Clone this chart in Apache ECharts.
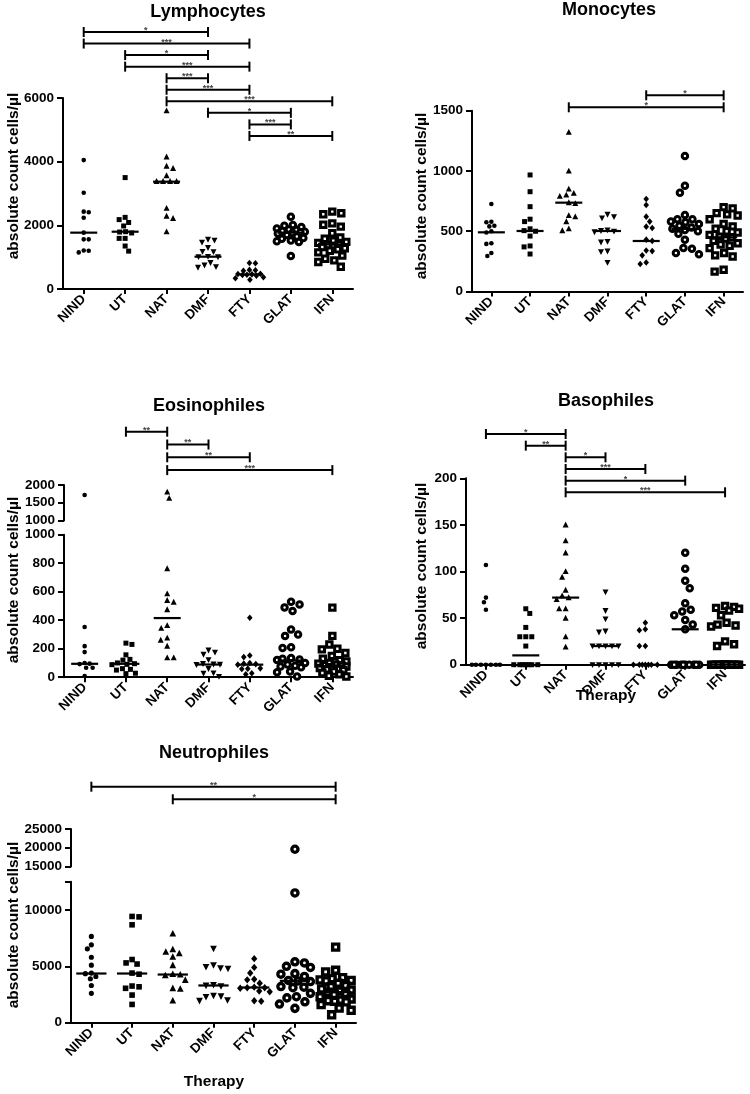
<!DOCTYPE html>
<html><head><meta charset="utf-8">
<script src="https://cdn.jsdelivr.net/npm/echarts@6/dist/echarts.min.js"></script>
<style>html,body{margin:0;padding:0;background:#fff}#c{width:750px;height:1094px}</style>
</head><body><div id="c"></div>
<script>
const categories = ['NIND','UT','NAT','DMF','FTY','GLAT','IFN'];

// ---- Lymphocytes ----
const lymphocytes = [
  [4050, 3025, 2430, 2410, 2240, 1770, 1560, 1560, 1210, 1200, 1150],
  [3500, 2250, 2180, 2090, 1980, 1800, 1790, 1760, 1590, 1590, 1350, 1190],
  [5600, 4150, 3860, 3790, 3560, 3380, 3380, 3380, 3380, 2535, 2290, 2220, 1800],
  [1560, 1530, 1470, 1300, 1180, 1170, 1020, 1015, 1010, 830, 750, 700, 680],
  [815, 810, 600, 590, 570, 480, 470, 460, 450, 440, 420, 370, 340, 290],
  [2270, 2010, 1990, 1950, 1900, 1870, 1850, 1820, 1800, 1780, 1760, 1740, 1700, 1650, 1600, 1580, 1520, 1500, 1480, 1040],
  [2430, 2380, 2350, 2060, 2020, 1960, 1750, 1620, 1580, 1520, 1480, 1450, 1400, 1380, 1350, 1320, 1280, 1250, 1200, 1150, 1050, 950, 900, 850, 700]
];
const lymphMedians = [1770, 1800, 3371, 1015, 460, 1770, 1400];
const lymphTicks = [0, 2000, 4000, 6000];
const lymphBrackets = [[0,3,'*'],[0,4,'***'],[1,3,'*'],[1,4,'***'],[2,3,'***'],[2,4,'***'],[2,6,'***'],[3,5,'*'],[4,5,'***'],[4,6,'**']];

// ---- Monocytes ----
const monocytes = [
  [726, 579, 575, 545, 540, 500, 490, 400, 395, 320, 295],
  [967, 828, 704, 600, 580, 520, 505, 500, 460, 378, 370, 311],
  [1321, 1000, 850, 815, 800, 790, 737, 730, 630, 620, 580, 520, 505],
  [640, 620, 610, 510, 505, 500, 495, 415, 410, 335, 330, 240],
  [768, 718, 621, 580, 538, 527, 430, 420, 340, 335, 300, 240, 228],
  [1124, 878, 820, 635, 600, 600, 580, 575, 560, 545, 530, 520, 510, 500, 480, 430, 360, 355, 320, 310],
  [700, 690, 650, 640, 630, 600, 560, 540, 520, 500, 490, 470, 455, 450, 440, 420, 400, 390, 380, 360, 320, 300, 290, 180, 165]
];
const monoMedians = [491, 502, 737, 502, 419, 519, 450];
const monoTicks = [0, 500, 1000, 1500];
const monoBrackets = [[4,6,'*'],[2,6,'*']];

// ---- Eosinophiles (broken axis) ----
const eosinophiles = [
  [1718, 352, 218, 176, 100, 95, 92, 66, 66, 8],
  [239, 230, 157, 125, 120, 100, 95, 90, 88, 60, 55, 50, 28, 25],
  [1803, 1625, 762, 586, 539, 527, 474, 363, 344, 275, 260, 218, 136, 136],
  [190, 175, 160, 122, 95, 92, 90, 88, 60, 30, 28, 5],
  [417, 152, 141, 100, 95, 92, 88, 62, 60, 58, 28, 20],
  [530, 510, 490, 465, 335, 300, 290, 210, 205, 135, 130, 125, 120, 100, 90, 80, 75, 70, 40, 35, 5],
  [488, 290, 230, 200, 195, 170, 150, 130, 120, 110, 100, 95, 90, 85, 80, 75, 70, 65, 60, 55, 50, 40, 30, 20, 10, 5]
];
const eosMedians = [94, 94, 415, 89, 88, 117, 75];
const eosTicksUpper = [1000, 1500, 2000];
const eosTicksLower = [0, 200, 400, 600, 800, 1000];
const eosBrackets = [[1,2,'**'],[2,3,'**'],[2,4,'**'],[2,6,'***']];

// ---- Basophiles ----
const basophiles = [
  [107, 72, 67, 59, 0, 0, 0, 0, 0, 0, 0],
  [60, 55, 40, 30, 30, 30, 20, 0, 0, 0, 0, 0, 0, 0],
  [150, 133, 120, 100, 94, 80, 74, 72, 70, 60, 60, 50, 30, 19],
  [78, 58, 49, 36, 35, 20, 20, 20, 20, 20, 0, 0, 0, 0, 0],
  [45, 38, 37, 20, 20, 0, 0, 0, 0, 0, 0, 0],
  [120, 103, 90, 82, 66, 59, 57, 53, 48, 43, 38, 0, 0, 0, 0, 0, 0, 0, 0, 0, 0],
  [63, 62, 61, 60, 58, 53, 45, 43, 42, 41, 25, 22, 20, 0, 0, 0, 0, 0, 0, 0, 0, 0, 0, 0, 0, 0, 0, 0]
];
const basoMedians = [0, 10, 72, 20, 0, 38, 0];
const basoTicks = [0, 50, 100, 150, 200];
const basoBrackets = [[0,2,'*'],[1,2,'**'],[2,3,'*'],[2,4,'***'],[2,5,'*'],[2,6,'***']];

// ---- Neutrophiles (broken axis) ----
const neutrophiles = [
  [7650, 6900, 6550, 5800, 5100, 4400, 4350, 4100, 3900, 3300, 2600],
  [9420, 9380, 8680, 5600, 5300, 5200, 4400, 4300, 3250, 3180, 3050, 2450, 1620],
  [7890, 6500, 6270, 6150, 5830, 5090, 4300, 4250, 4200, 3780, 3050, 3000, 1950],
  [6570, 5100, 4950, 4850, 4800, 3350, 3300, 3250, 2400, 2350, 2300, 2000, 1950],
  [5680, 4900, 4400, 3850, 3800, 3500, 3150, 3100, 3100, 3050, 2800, 2750, 1950, 1900],
  [19600, 11500, 5400, 5300, 5000, 4900, 4350, 4300, 4100, 3750, 3700, 3650, 3200, 3150, 3100, 2600, 2300, 2200, 1850, 1650, 1270],
  [6700, 4650, 4500, 4000, 3900, 3800, 3750, 3700, 3500, 3300, 3200, 3000, 2900, 2800, 2700, 2600, 2500, 2300, 2100, 2000, 1950, 1900, 1850, 1600, 1300, 1100, 700]
];
const neutMedians = [4360, 4360, 4270, 3300, 3120, 3710, 2710];
const neutTicksUpper = [15000, 20000, 25000];
const neutTicksLower = [0, 5000, 10000];
const neutLowerMax = 12500;
const neutBrackets = [[0,6,'**'],[2,6,'*']];

const yTitle = 'absolute count cells/µl';
const xTitle = 'Therapy';

// ---------- layout / styles ----------
const FONT = "'Liberation Sans', Arial, sans-serif";
const panels = [
  {name:'Lymphocytes', data:lymphocytes, medians:lymphMedians, brackets:lymphBrackets,
   segs:[{ticks:lymphTicks, top:98, height:191}], left:63, width:290,
   title:[208,12], yT:[14,176], xT:null, bTop:32, bStep:11.55, k:1},
  {name:'Monocytes', data:monocytes, medians:monoMedians, brackets:monoBrackets,
   segs:[{ticks:monoTicks, top:110.7, height:180.8}], left:472, width:271,
   title:[609,10], yT:[422,196], xT:null, bTop:95.3, bStep:12, k:1},
  {name:'Eosinophiles', data:eosinophiles, medians:eosMedians, brackets:eosBrackets,
   segs:[{ticks:eosTicksUpper, top:485, height:35.5},{ticks:eosTicksLower, top:534.7, height:142.5}], left:64, width:289,
   title:[209,406], yT:[14,580], xT:null, bTop:431.7, bStep:12.8, k:1},
  {name:'Basophiles', data:basophiles, medians:basoMedians, brackets:basoBrackets,
   segs:[{ticks:basoTicks, top:478.3, height:186.4}], left:466, width:279,
   title:[606,401], yT:[422,566], xT:[606,696], bTop:434, bStep:11.66, k:1},
  {name:'Neutrophiles', data:neutrophiles, medians:neutMedians, brackets:neutBrackets,
   segs:[{ticks:neutTicksUpper, top:829, height:37.5},{ticks:neutTicksLower, max:neutLowerMax, top:881.7, height:141}], left:71, width:285,
   title:[214,753], yT:[14,925], xT:[214,1082], bTop:786.7, bStep:12.6, k:1.12}
];
panels.forEach(p => p.segs.forEach(s => {
  s.min = s.ticks[0];
  if (s.max === undefined) s.max = s.ticks[s.ticks.length - 1];
  s.interval = s.ticks[1] - s.ticks[0];
}));
function segOf(p, v) {
  for (let s = p.segs.length - 1; s >= 0; s--) if (v <= p.segs[s].max) return s;
  return 0;
}
const COLL = [5, 6, 6.5, 6.5, 6, 8.5, 9];

function pointShape(g, x, y, k) {
  const blk = '#000';
  if (g === 0) return {type:'circle', shape:{cx:x, cy:y, r:2.3*k}, style:{fill:blk}};
  if (g === 1) { const s = 5*k; return {type:'rect', shape:{x:x-s/2, y:y-s/2, width:s, height:s}, style:{fill:blk}}; }
  if (g === 2) { const w = 3*k, h = 3*k; return {type:'polygon', shape:{points:[[x,y-h*1.1],[x+w,y+h*0.85],[x-w,y+h*0.85]]}, style:{fill:blk}}; }
  if (g === 3) { const w = 3*k, h = 3*k; return {type:'polygon', shape:{points:[[x-w,y-h*0.85],[x+w,y-h*0.85],[x,y+h*1.1]]}, style:{fill:blk}}; }
  if (g === 4) { const w = 2.8*k, h = 3.3*k; return {type:'polygon', shape:{points:[[x,y-h],[x+w,y],[x,y+h],[x-w,y]]}, style:{fill:blk}}; }
  if (g === 5) return {type:'circle', shape:{cx:x, cy:y, r:2.75*k}, style:{fill:'#fff', stroke:blk, lineWidth:3*k}};
  const s = 5.4*k;
  return {type:'rect', shape:{x:x-s/2, y:y-s/2, width:s, height:s}, style:{fill:'#fff', stroke:blk, lineWidth:3*k}};
}

function swarm(ys, d, maxHalf) {
  const n = ys.length, order = ys.map((_, i) => i).sort((a, b) => ys[a] - ys[b]);
  const placed = [], dx = new Array(n).fill(0);
  for (const i of order) {
    const flip = placed.length % 2 ? 1 : -1;
    const cands = [0];
    for (let s = 0.5; s <= maxHalf + 1e-9; s += 0.5) cands.push(flip*s, -flip*s);
    let chosen = null, fb = 0, fbScore = -1;
    for (const c of cands) {
      let m = Infinity;
      for (const q of placed) { const dd = Math.hypot(q[0]-c, q[1]-ys[i]); if (dd < m) m = dd; }
      if (m >= d) { chosen = c; break; }
      if (m > fbScore + 0.01) { fbScore = m; fb = c; }
    }
    if (chosen === null) chosen = fb;
    dx[i] = chosen; placed.push([chosen, ys[i]]);
  }
  return dx;
}

function labelFmt(s) {
  return v => (s.ticks.indexOf(v) >= 0 ? String(v) : '');
}

function buildOption(offsets) {
  const grid = [], xAxis = [], yAxis = [], series = [], graphic = [];
  let gi = 0;
  panels.forEach((p, pi) => {
    const segIdx = [];
    p.segs.forEach((s, si) => {
      const lowest = si === p.segs.length - 1;
      segIdx.push(gi);
      grid.push({left:p.left, top:s.top, width:p.width, height:s.height});
      xAxis.push({gridIndex:gi, type:'category', data:categories, boundaryGap:true, show:lowest,
        axisLine:{onZero:false, lineStyle:{color:'#000', width:2}},
        axisTick:{show:true, alignWithLabel:true, length:5, lineStyle:{color:'#000', width:2}},
        axisLabel:{interval:0, rotate:45, margin:8, color:'#000', fontSize:13.5, fontWeight:'bold', fontFamily:FONT},
        splitLine:{show:false}});
      yAxis.push({gridIndex:gi, type:'value', min:s.min, max:s.max, interval:s.interval,
        axisLine:{show:true, lineStyle:{color:'#000', width:2}},
        axisTick:{show:true, length:6, lineStyle:{color:'#000', width:2}},
        axisLabel:{formatter:labelFmt(s), margin:9, color:'#000', fontSize:13.5, fontWeight:'bold', fontFamily:FONT},
        splitLine:{show:false}});
      // points
      const items = [];
      p.data.forEach((vals, g) => vals.forEach((v, i) => {
        if (segOf(p, v) === si) items.push([g, v, offsets ? offsets[pi][g][i] : 0]);
      }));
      const k = p.k;
      series.push({type:'custom', coordinateSystem:'cartesian2d', xAxisIndex:gi, yAxisIndex:gi,
        dimensions:['x','y','dx'], encode:{x:0, y:1}, data:items, clip:false, silent:true, z:3,
        renderItem:(params, api) => {
          const c = api.coord([api.value(0), api.value(1)]);
          return pointShape(api.value(0), c[0] + api.value(2), c[1], k);
        }});
      // medians
      const meds = [];
      p.medians.forEach((m, g) => { if (segOf(p, m) === si) meds.push([g, m]); });
      series.push({type:'custom', coordinateSystem:'cartesian2d', xAxisIndex:gi, yAxisIndex:gi,
        dimensions:['x','y'], encode:{x:0, y:1}, data:meds, clip:false, silent:true, z:4,
        renderItem:(params, api) => {
          const c = api.coord([api.value(0), api.value(1)]);
          const hw = 13.5*k;
          return {type:'line', shape:{x1:c[0]-hw, y1:c[1], x2:c[0]+hw, y2:c[1]}, style:{stroke:'#000', lineWidth:2.2}};
        }});
      if (si === 0) {
        const br = p.brackets, sm = s.min;
        series.push({type:'custom', coordinateSystem:'cartesian2d', xAxisIndex:gi, yAxisIndex:gi,
          dimensions:['x','x2'], encode:{x:0}, data:br.map(b => [b[0], b[1]]), clip:false, silent:true, z:5,
          renderItem:(params, api) => {
            const b = br[params.dataIndex];
            const x1 = api.coord([b[0], sm])[0], x2 = api.coord([b[1], sm])[0];
            const y = p.bTop + params.dataIndex * p.bStep;
            const st = {stroke:'#000', lineWidth:2};
            return {type:'group', children:[
              {type:'line', shape:{x1:x1, y1:y, x2:x2, y2:y}, style:st},
              {type:'line', shape:{x1:x1, y1:y-5, x2:x1, y2:y+5}, style:st},
              {type:'line', shape:{x1:x2, y1:y-5, x2:x2, y2:y+5}, style:st},
              {type:'text', x:(x1+x2)/2, y:y-1.5, style:{text:b[2], fill:'#444', font:'bold 9px ' + FONT,
                align:'center', verticalAlign:'middle', textAlign:'center', textVerticalAlign:'middle'}}
            ]};
          }});
      }
      gi++;
    });
    p.segIdx = segIdx;
    const txt = (x, y, text, size, rot) => ({type:'text', x:x, y:y, rotation:rot || 0, silent:true,
      style:{text:text, fill:'#000', font:'bold ' + size + 'px ' + FONT, align:'center', verticalAlign:'middle',
        textAlign:'center', textVerticalAlign:'middle'}});
    graphic.push(txt(p.title[0], p.title[1], p.name, 18));
    graphic.push(txt(p.yT[0], p.yT[1], yTitle, 15.5, Math.PI/2));
    if (p.xT) graphic.push(txt(p.xT[0], p.xT[1], xTitle, 15.5));
  });
  return {animation:false, backgroundColor:'#fff', grid, xAxis, yAxis, series, graphic};
}

const chart = echarts.init(document.getElementById('c'), null, {renderer:'canvas', width:750, height:1094});
chart.setOption(buildOption(null));
// compute beeswarm offsets from pixel positions given by the axes
const offsets = panels.map(p => p.data.map((vals, g) => {
  const ys = vals.map(v => {
    const si = segOf(p, v);
    return chart.convertToPixel({gridIndex:p.segIdx[si]}, [g, v])[1];
  });
  return swarm(ys, COLL[g]*p.k, 14*p.k);
}));
chart.setOption(buildOption(offsets), true);
</script>
</body></html>
